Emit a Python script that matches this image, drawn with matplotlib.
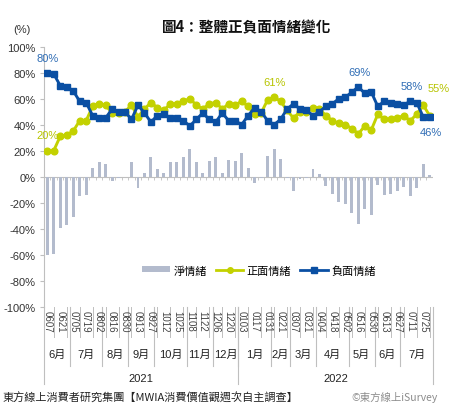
import numpy as np
import matplotlib.pyplot as plt
from matplotlib.patches import Patch
from matplotlib.lines import Line2D

plt.rcParams['font.family'] = ['Liberation Sans', 'Noto Sans CJK TC']

# 週次資料 (2021/06/07 ~ 2022/08/01)
tick_labels = ['0607', '0621', '0705', '0719', '0802', '0816', '0830', '0913', '0927', '1012',
               '1025', '1108', '1122', '1206', '1220', '0103', '0117', '0131', '0221', '0307',
               '0321', '0404', '0418', '0502', '0516', '0530', '0613', '0627', '0711', '0725']
months = ['6月', '7月', '8月', '9月', '10月', '11月', '12月',
          '1月', '2月', '3月', '4月', '5月', '6月', '7月']
month_weeks = [4, 5, 4, 4, 5, 4, 4, 5, 3, 4, 5, 4, 4, 5]
years = ['2021', '2022']
year_weeks = [30, 30]

pos = [20, 20, 31, 32, 35, 43, 43, 54, 56, 55, 49, 49, 50, 55, 46, 52, 57, 53, 51, 56,
       56, 58, 60, 55, 52, 56, 57, 52, 56, 55, 58, 54, 48, 49, 59, 61, 58, 51, 45, 50,
       50, 53, 52, 47, 43, 41, 40, 37, 33, 39, 36, 48, 44, 44, 45, 47, 43, 48, 55, 47]
neg = [80, 79, 70, 69, 66, 58, 57, 47, 45, 45, 52, 50, 50, 44, 55, 49, 42, 47, 48, 45,
       45, 43, 39, 44, 49, 44, 42, 49, 43, 43, 40, 47, 53, 50, 43, 40, 44, 52, 56, 52,
       51, 47, 50, 54, 56, 60, 61, 65, 69, 64, 65, 54, 58, 57, 56, 55, 58, 57, 46, 46]
net = [-60, -59, -39, -37, -31, -15, -14, 7, 11, 10, -3, -1, 0, 11, -9, 3, 15, 6, 3, 11,
       11, 15, 21, 11, 3, 12, 15, 3, 13, 12, 18, 7, -5, -1, 16, 21, 14, -1, -11, -2,
       -1, 6, 2, -7, -13, -19, -21, -28, -36, -25, -29, -6, -14, -13, -11, -8, -15, -9, 10, 1]

GREEN = '#C3D100'
BLUE = '#0A4FA3'
BAR = '#B3BBCD'
GRID = '#BFBFBF'

n = len(pos)
x = np.arange(n)

fig = plt.figure(figsize=(4.62, 4.10), dpi=100)
ax = fig.add_axes([0.0952, 0.2488, 0.8418, 0.6353])

ax.bar(x, net, width=0.45, color=BAR, zorder=2)
ax.plot(x, pos, color=GREEN, lw=2.1, marker='o', ms=4.8, zorder=3)
ax.plot(x, neg, color=BLUE, lw=2.1, marker='s', ms=4.8, zorder=4)

ax.axhline(0, color=GRID, lw=0.8, zorder=1)
ax.vlines(x[:-1] + 0.5, -2.3, 0, color=GRID, lw=0.6, zorder=1)

ax.set_xlim(-0.5, n - 0.5)
ax.set_ylim(-100, 100)
ax.set_yticks(range(-100, 101, 20))
ax.set_yticklabels([f'{v}%' for v in range(-100, 101, 20)], fontsize=8, color='#333333')
ax.tick_params(axis='y', length=3, color=GRID, width=0.8, pad=3)
ax.set_xticks([])
for s in ['top', 'right', 'bottom']:
    ax.spines[s].set_visible(False)
ax.spines['left'].set_color(GRID)
ax.spines['left'].set_linewidth(0.8)

# 多層類別軸
tr = ax.get_xaxis_transform()
for k, lab in enumerate(tick_labels):
    ax.text(2 * k, -0.012, lab, transform=tr, rotation=270, ha='center', va='top',
            fontsize=7, color='#444444', clip_on=False)
for k in range(n // 2):
    ax.plot([2 * k + 1, 2 * k + 1], [0, -0.115], transform=tr, color=GRID, lw=0.7, clip_on=False)

start = 0
for m, w in zip(months, month_weeks):
    ax.text(start + (w - 1) / 2, -0.18, m, transform=tr, ha='center', va='center',
            fontsize=8, color='#222222', clip_on=False)
    start += w
    if start < n:
        ax.plot([start - 0.5, start - 0.5], [0, -0.2265], transform=tr, color=GRID, lw=0.8, clip_on=False)

start = 0
for yl, w in zip(years, year_weeks):
    ax.text(start + (w - 1) / 2, -0.2726, yl, transform=tr, ha='center', va='center',
            fontsize=8, color='#222222', clip_on=False)
    start += w
    ax.plot([start - 0.5, start - 0.5], [0, -0.2956], transform=tr, color=GRID, lw=0.8, clip_on=False)
ax.plot([-0.5, -0.5], [0, -0.2956], transform=tr, color=GRID, lw=0.8, clip_on=False)

# 數據標籤
ann = dict(textcoords='offset points', ha='center', va='center', fontsize=8)
ax.annotate(f'{neg[0]}%', (0, neg[0]), xytext=(0, 10.5), color='#2F6DB5', **ann)
ax.annotate(f'{pos[0]}%', (0, pos[0]), xytext=(0, 11), color='#B7C400', **ann)
ax.annotate(f'{pos[35]}%', (35, pos[35]), xytext=(0, 11), color='#B7C400', **ann)
ax.annotate(f'{neg[48]}%', (48, neg[48]), xytext=(1, 11), color='#2F6DB5', **ann)
ax.annotate(f'{neg[56]}%', (56, neg[56]), xytext=(1, 11), color='#2F6DB5', **ann)
ax.annotate(f'{pos[58]}%', (58, pos[58]), xytext=(11.5, 12), color='#B7C400', **ann)
ax.annotate(f'{neg[58]}%', (58, neg[58]), xytext=(5.5, -11), color='#2F6DB5', **ann)

handles = [Patch(facecolor=BAR, edgecolor='none'),
           Line2D([], [], color=GREEN, lw=2, marker='o', ms=4),
           Line2D([], [], color=BLUE, lw=2, marker='s', ms=4)]
leg = ax.legend(handles, ['淨情緒', '正面情緒', '負面情緒'], loc='center',
                bbox_to_anchor=(0.553, 0.142), ncol=3, frameon=False, fontsize=8,
                handlelength=2.5, handleheight=0.45, handletextpad=0.3, columnspacing=0.8)

fig.text(0.535, 0.934, '圖4：整體正負面情緒變化', ha='center', va='center', fontsize=10.5,
         fontweight='bold', family=['Noto Sans CJK TC'], color='#111111')
fig.text(22 / 462, 1 - 30 / 410, '(%)', ha='center', va='center', fontsize=8, color='#333333')
fig.text(3 / 462, 0.03, '東方線上消費者研究集團【MWIA消費價值觀週次自主調查】', ha='left', va='center',
         fontsize=8, color='#222222', family=['Noto Sans CJK TC'])
fig.text(438 / 462, 0.03, '©東方線上iSurvey', ha='right', va='center',
         fontsize=7.5, color='#8C8C8C', family=['Noto Sans CJK TC', 'DejaVu Sans'])

fig.savefig('out.png', dpi=100)
